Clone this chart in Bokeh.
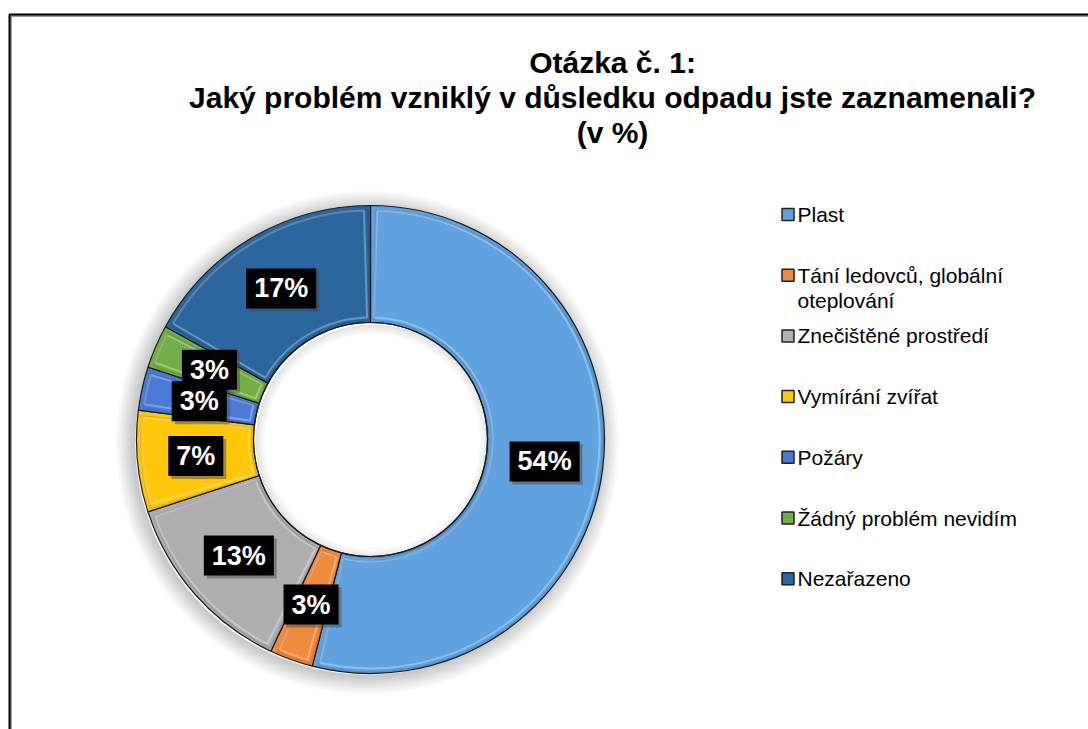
import numpy as np
from bokeh.plotting import figure
from bokeh.models import Range1d, ColumnDataSource
from bokeh.core.properties import value
from bokeh.embed import file_html
from bokeh.resources import INLINE

# ---- data ----
categories = ["Plast", "Tání ledovců, globální\noteplování", "Znečištěné prostředí",
              "Vymírání zvířat", "Požáry", "Žádný problém nevidím", "Nezařazeno"]
values = [54, 3, 13, 7, 3, 3, 17]
colors = ["#5FA2DF", "#F08A3C", "#AFAFAF", "#FFC70A", "#4A7AD6", "#72AE48", "#2B679E"]
title_lines = ["Otázka č. 1:", "Jaký problém vzniklý v důsledku odpadu jste zaznamenali?", "(v %)"]

FONT = value("Liberation Sans")
W, H = 1088, 729
p = figure(width=W, height=H, x_range=Range1d(0, W), y_range=Range1d(0, H),
           output_backend="svg", toolbar_location=None, min_border=0,
           x_axis_location=None, y_axis_location=None)
p.grid.visible = False
p.outline_line_color = None
p.background_fill_color = "white"
p.border_fill_color = "white"

# ---- chart frame (left + top border) ----
p.line(x=[10.5, 10.5, W], y=[0, H - 15.5, H - 15.5], line_color="#9a9a9a", line_width=2)
p.line(x=[9, 9, W], y=[0, H - 14, H - 14], line_color="black", line_width=2)

# ---- donut geometry ----
cx, cy, R, r = 370, 290, 234, 117
frac = np.array(values, dtype=float) / sum(values)
cum = np.concatenate([[0.0], np.cumsum(frac)])
start = np.pi / 2 - 2 * np.pi * cum[:-1]
end = np.pi / 2 - 2 * np.pi * cum[1:]
mid = (start + end) / 2

# soft outer shadow
for k in range(18):
    p.annulus(x=cx - 3, y=cy - 3, inner_radius=R - 2, outer_radius=R + k + 1,
              fill_color="black", fill_alpha=0.013, line_color=None)
src = ColumnDataSource(dict(start=start, end=end, color=colors))
p.annular_wedge(x=cx, y=cy, inner_radius=r, outer_radius=R, start_angle="start",
                end_angle="end", direction="clock", fill_color="color",
                line_color="#1a1a1a", line_width=1.2, source=src)

# bevel-like highlight / shade
d = 5.0 / ((R + r) / 2)
p.annular_wedge(x=cx, y=cy, inner_radius=r + 5, outer_radius=R - 5,
                start_angle=start - d, end_angle=end + d, direction="clock",
                fill_color=None, line_color="white", line_alpha=0.3, line_width=2)
p.annular_wedge(x=cx + 1.5, y=cy - 1.5, inner_radius=r + 3, outer_radius=R - 3,
                start_angle=start - d * 0.6, end_angle=end + d * 0.6, direction="clock",
                fill_color=None, line_color="black", line_alpha=0.10, line_width=2)

# inner hole shadow
for k in range(10):
    p.annulus(x=cx + 2, y=cy - 2, inner_radius=r - k - 1, outer_radius=r,
              fill_color="black", fill_alpha=0.012, line_color=None)
p.circle(x=cx, y=cy, radius=r, fill_color=None, line_color="#1a1a1a", line_width=1.2)

# ---- data labels ----
rm = (R + r) / 2
lsrc = ColumnDataSource(dict(x=cx + rm * np.cos(mid), y=cy + rm * np.sin(mid),
                             t=[f"{v}%" for v in values]))
p.text(x="x", y="y", text="t", source=lsrc, text_align="center", text_baseline="middle",
       text_font=FONT, text_font_style="bold", text_font_size="27px", text_alpha=0,
       background_fill_color="#404040", background_fill_alpha=0.45,
       padding=dict(x=8, y=5), x_offset=3, y_offset=3)
p.text(x="x", y="y", text="t", source=lsrc, text_align="center", text_baseline="middle",
       text_font=FONT, text_font_style="bold", text_font_size="27px", text_color="white",
       background_fill_color="black", padding=dict(x=8, y=5))

# ---- title ----
ty0, tstep = H - 62, 35
p.text(x=[612] * len(title_lines), y=[ty0 - i * tstep for i in range(len(title_lines))],
       text=title_lines, text_align="center", text_baseline="alphabetic",
       text_font=FONT, text_font_style="bold", text_font_size="30px", text_color="black")

# ---- legend ----
lx_box, lx_text, ly0, lstep, line_h = 787.5, 797, H - 214, 60.7, 25
bx, by, bc, tx, ty, tt = [], [], [], [], [], []
for i, (cat, col) in enumerate(zip(categories, colors)):
    yy = ly0 - i * lstep
    bx.append(lx_box); by.append(yy); bc.append(col)
    for j, line in enumerate(cat.split("\n")):
        tx.append(lx_text); ty.append(yy - j * line_h); tt.append(line)
p.rect(x=bx, y=by, width=12, height=12, width_units="screen", height_units="screen",
       fill_color=bc, line_color="#222222", line_width=1.5)
p.text(x=tx, y=ty, text=tt, text_align="left", text_baseline="middle",
       text_font=FONT, text_font_size="21px", text_color="black")

open("out.html", "w").write(file_html(p, INLINE))
